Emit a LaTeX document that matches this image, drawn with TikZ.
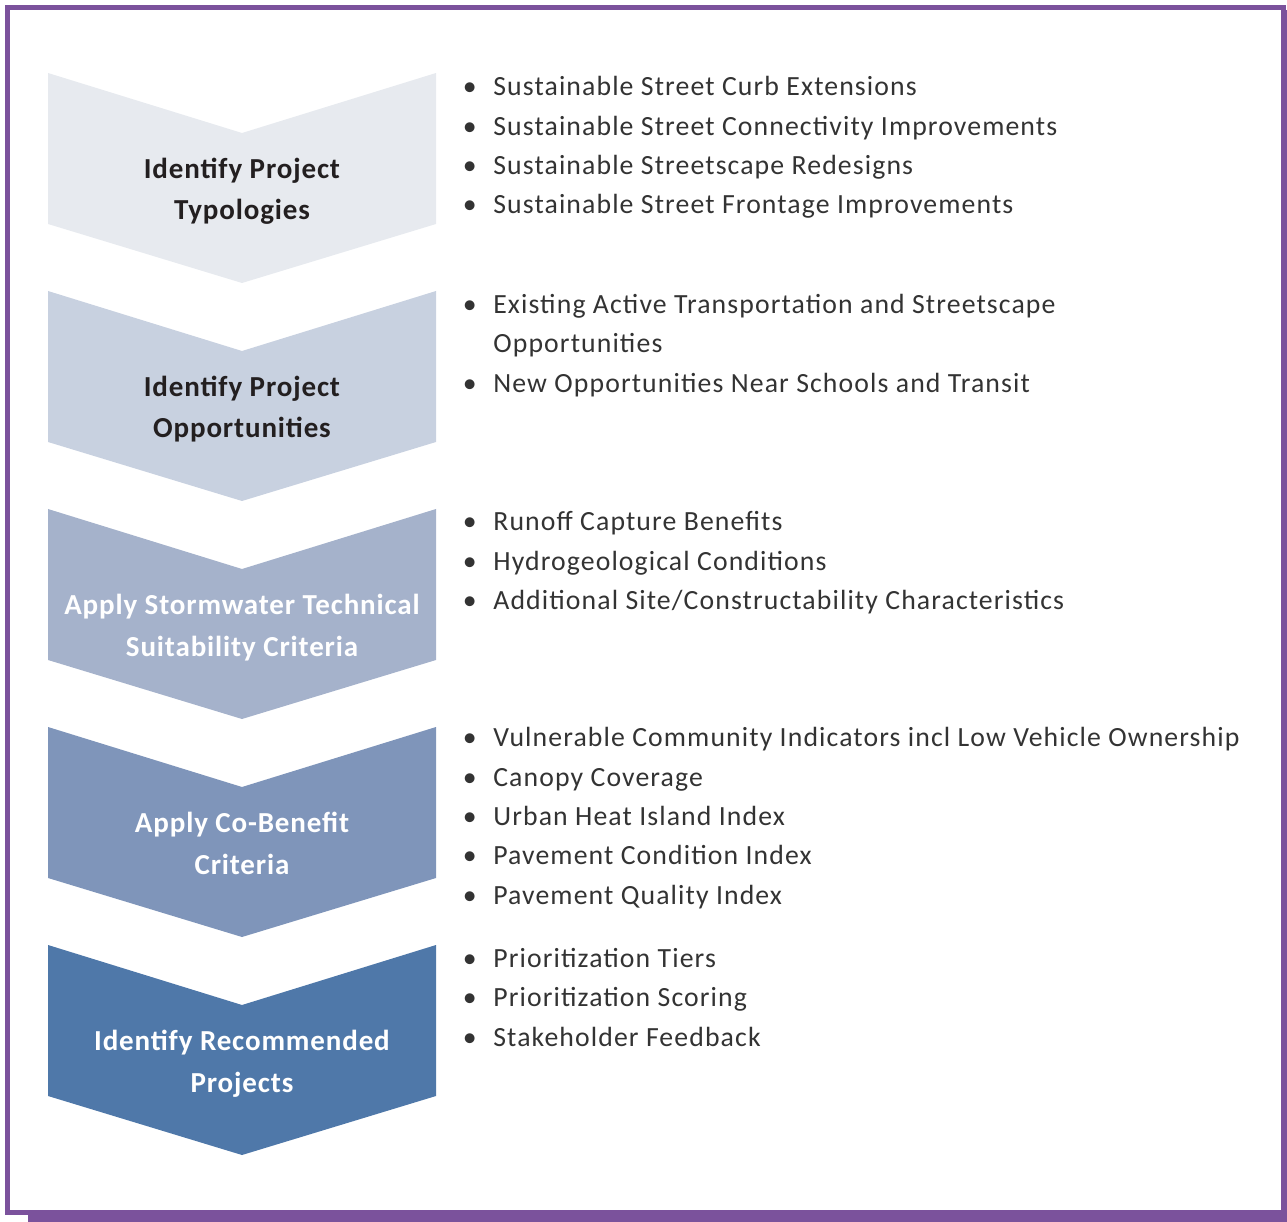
\documentclass[tikz,border=0pt]{standalone}
\usepackage{fontspec}
\setmainfont{Carlito}
\newfontfamily\stepfont[LetterSpace=3]{Carlito}
\newfontfamily\listfont[LetterSpace=4]{Carlito}
\usetikzlibrary{positioning}
\definecolor{frameviolet}{HTML}{7B529C}
\definecolor{chevA}{HTML}{E7EAEF}
\definecolor{chevB}{HTML}{C8D1E0}
\definecolor{chevC}{HTML}{A5B2CB}
\definecolor{chevD}{HTML}{7F95BA}
\definecolor{chevE}{HTML}{4F78A9}
\definecolor{stepdark}{HTML}{231F20}
\definecolor{listgray}{HTML}{333333}

\tikzset{
	steplabel/.style={align=center, inner sep=0pt, anchor=base,
		font=\stepfont\bfseries\fontsize{16.5}{23.8}\selectfont},
	listcont/.style={anchor=base west, inner sep=0pt, text=listgray,
		font=\listfont\fontsize{15.8}{21}\selectfont, text height=1.6ex, text depth=0.5ex},
	listitem/.style={listcont, label={[listcont, anchor=east, label distance=0.32cm]left:\textbullet}}
}

\begin{document}
\begin{tikzpicture}[x=0.02cm, y=-0.02cm]
	\useasboundingbox (0,0) rectangle (1287,1222);
	% frame with shadow
	\fill [frameviolet] (28,1211) rectangle (1287,1222);
	\fill [frameviolet] (1281,10) rectangle (1287,1222);
	\draw [frameviolet, line width=0.1cm] (7.5,7.5) rectangle (1283,1212);
	
	% chevrons
	\foreach \y/\col/\txtcol/\nm/\lab in {
		73/chevA/stepdark/typ/{Identify Project\\Typologies},
		291/chevB/stepdark/opp/{Identify Project\\Opportunities},
		509/chevC/white/swc/{Apply Stormwater Technical\\Suitability Criteria},
		727/chevD/white/cob/{Apply Co-Benefit\\Criteria},
		945/chevE/white/rec/{Identify Recommended\\Projects}}{
		\fill [\col] (48,\y) -- (242,\y+60) -- (436,\y) -- (436,\y+151) 
			-- (242,\y+210) -- (48,\y+151) -- cycle;
		\node [steplabel, text=\txtcol] (\nm) at (242,\y+147) {\lab};
	}
	
	% bullet lists
	\node [listitem] (typa) at (493,96) {Sustainable Street Curb Extensions};
	\node [listitem] (typb) at (493,135.5) {Sustainable Street Connectivity Improvements};
	\node [listitem] (typc) at (493,175) {Sustainable Streetscape Redesigns};
	\node [listitem] (typd) at (493,214) {Sustainable Street Frontage Improvements};
	
	\node [listitem] (oppa) at (493,314) {Existing Active Transportation and Streetscape};
	\node [listcont] (oppb) at (493,353) {Opportunities};
	\node [listitem] (oppc) at (493,393) {New Opportunities Near Schools and Transit};
	
	\node [listitem] (swca) at (493,531) {Runoff Capture Benefits};
	\node [listitem] (swcb) at (493,570) {Hydrogeological Conditions};
	\node [listitem] (swcc) at (493,609) {Additional Site/Constructability Characteristics};
	
	\node [listitem] (coba) at (493,746) {Vulnerable Community Indicators incl Low Vehicle Ownership};
	\node [listitem] (cobb) at (493,786) {Canopy Coverage};
	\node [listitem] (cobc) at (493,825) {Urban Heat Island Index};
	\node [listitem] (cobd) at (493,864) {Pavement Condition Index};
	\node [listitem] (cobe) at (493,904) {Pavement Quality Index};
	
	\node [listitem] (reca) at (493,967) {Prioritization Tiers};
	\node [listitem] (recb) at (493,1006) {Prioritization Scoring};
	\node [listitem] (recc) at (493,1046) {Stakeholder Feedback};
\end{tikzpicture}
\end{document}
